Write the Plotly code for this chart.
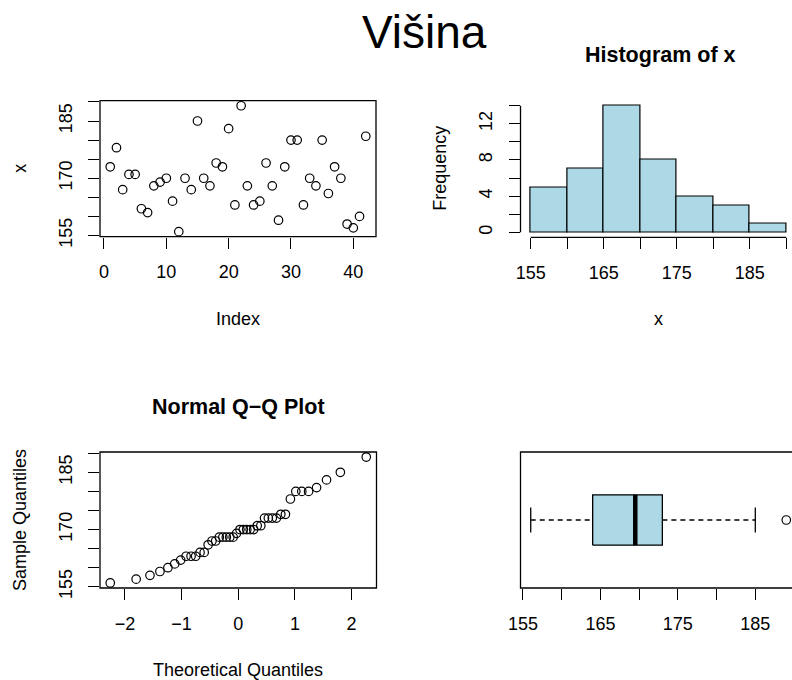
import numpy as np
import plotly.graph_objects as go
from statistics import NormalDist

# Body height measurements (cm)
heights = [173, 178, 167, 171, 171, 162, 161, 168, 169, 170, 164, 156, 170, 167,
           185, 170, 168, 174, 173, 183, 163, 189, 168, 163, 164, 174, 168, 159,
           173, 180, 180, 163, 170, 168, 180, 166, 173, 170, 158, 157, 160, 181]

hist_breaks = [155, 160, 165, 170, 175, 180, 185, 190]
height_ticks = [155, 160, 165, 170, 175, 180, 185, 190]
height_labels = ["155", "", "", "170", "", "", "185", ""]
hist_x_labels = ["155", "", "165", "", "175", "", "185", ""]
freq_ticks = [0, 2, 4, 6, 8, 10, 12, 14]
freq_labels = ["0", "", "4", "", "8", "", "12", ""]
index_ticks = [0, 10, 20, 30, 40]
qq_ticks = [-2, -1, 0, 1, 2]
qq_labels = ["\u22122", "\u22121", "0", "1", "2"]

W, H = 792, 680
FONT = "Liberation Sans, Arial, Helvetica, sans-serif"
BLUE = "#ADD8E6"
TICK_SIZE = 18

data = np.array(heights, dtype=float)
n = len(data)


def px(x):
    return x / W


def py(y):
    return 1 - y / H


def ext(lo, hi, f=0.04):
    d = (hi - lo) * f
    return [lo - d, hi + d]


# Histogram counts, right-closed bins with the lowest edge included
counts = []
for i in range(len(hist_breaks) - 1):
    lo, hi = hist_breaks[i], hist_breaks[i + 1]
    if i == 0:
        c = int(np.sum((data >= lo) & (data <= hi)))
    else:
        c = int(np.sum((data > lo) & (data <= hi)))
    counts.append(c)
mids = [(hist_breaks[i] + hist_breaks[i + 1]) / 2 for i in range(len(counts))]

# Normal Q-Q coordinates
nd = NormalDist()
probs = [(i + 0.5) / n for i in range(n)]
theo = [nd.inv_cdf(p) for p in probs]
sample = sorted(heights)

# Tukey five-number summary for the boxplot
s = np.sort(data)
n4 = np.floor((n + 3) / 2) / 2
d_idx = np.array([1, n4, (n + 1) / 2, n + 1 - n4, n]) - 1
five = 0.5 * (s[np.floor(d_idx).astype(int)] + s[np.ceil(d_idx).astype(int)])
q1, med, q3 = five[1], five[2], five[3]
iqr = q3 - q1
lo_whisk = s[s >= q1 - 1.5 * iqr].min()
hi_whisk = s[s <= q3 + 1.5 * iqr].max()
outliers = s[(s < lo_whisk) | (s > hi_whisk)]

yr = ext(min(heights), max(heights))
xr_idx = ext(1, n)
qr = ext(min(theo), max(theo))

# plot-region pixel geometry
TL = dict(x0=100, x1=376, y0=100.7, y1=236.7)
TR = dict(x0=520.5, y0=100.6, y1=237.4)
BL = dict(x0=100, x1=376.5, y0=452, y1=588)
BR = dict(x0=520.5, y0=452, y1=588)

hist_xr = ext(hist_breaks[0], hist_breaks[-1])
hist_scale = 276.0 / (hist_xr[1] - hist_xr[0])
hist_xr_vis = [hist_xr[0], hist_xr[0] + (W - TR["x0"]) / hist_scale]
hist_yr = ext(0, max(freq_ticks))

box_xr = yr
box_scale = 276.0 / (box_xr[1] - box_xr[0])
box_xr_vis = [box_xr[0], box_xr[0] + (W - BR["x0"]) / box_scale]

fig = go.Figure()

# Index plot
fig.add_trace(go.Scatter(
    x=list(range(1, n + 1)), y=heights, mode="markers",
    marker=dict(symbol="circle-open", size=8.5, color="black", line=dict(width=1.2)),
    xaxis="x", yaxis="y", hoverinfo="skip"))

# Histogram
fig.add_trace(go.Bar(
    x=mids, y=counts, width=5, marker=dict(color=BLUE, line=dict(color="black", width=1.2)),
    xaxis="x2", yaxis="y2", hoverinfo="skip"))

# Normal Q-Q plot
fig.add_trace(go.Scatter(
    x=theo, y=sample, mode="markers",
    marker=dict(symbol="circle-open", size=8.5, color="black", line=dict(width=1.2)),
    xaxis="x3", yaxis="y3", hoverinfo="skip"))

# Boxplot pieces
bw = 0.2
fig.add_trace(go.Scatter(
    x=[q1, q3, q3, q1, q1], y=[1 - bw, 1 - bw, 1 + bw, 1 + bw, 1 - bw],
    mode="lines", fill="toself", fillcolor=BLUE, line=dict(color="black", width=1.3),
    xaxis="x4", yaxis="y4", hoverinfo="skip"))
fig.add_trace(go.Scatter(
    x=[med, med], y=[1 - bw, 1 + bw], mode="lines", line=dict(color="black", width=4.5),
    xaxis="x4", yaxis="y4", hoverinfo="skip"))
for a, b in [(lo_whisk, q1), (q3, hi_whisk)]:
    fig.add_trace(go.Scatter(
        x=[a, b], y=[1, 1], mode="lines", line=dict(color="black", width=1.3, dash="5px,4px"),
        xaxis="x4", yaxis="y4", hoverinfo="skip"))
for w in [lo_whisk, hi_whisk]:
    fig.add_trace(go.Scatter(
        x=[w, w], y=[1 - bw / 2, 1 + bw / 2], mode="lines", line=dict(color="black", width=1.3),
        xaxis="x4", yaxis="y4", hoverinfo="skip"))
fig.add_trace(go.Scatter(
    x=list(outliers), y=[1] * len(outliers), mode="markers",
    marker=dict(symbol="circle-open", size=8.5, color="black", line=dict(width=1.2)),
    xaxis="x4", yaxis="y4", hoverinfo="skip"))

tickfont = dict(family=FONT, size=TICK_SIZE, color="black")
common = dict(showgrid=False, zeroline=False, showline=False, ticks="outside",
              ticklen=11, tickwidth=1.2, tickcolor="black", tickfont=tickfont,
              fixedrange=True, automargin=False)
XSO = 8   # x tick label standoff
YSO = 9   # y tick label standoff

fig.update_layout(
    width=W, height=H, margin=dict(l=0, r=0, t=0, b=0, autoexpand=False),
    paper_bgcolor="white", plot_bgcolor="white", showlegend=False,
    font=dict(family=FONT, color="black"),
    xaxis=dict(domain=[px(TL["x0"]), px(TL["x1"])], range=xr_idx, tickvals=index_ticks,
               ticklabelstandoff=XSO, anchor="y", **common),
    yaxis=dict(domain=[py(TL["y1"]), py(TL["y0"])], range=yr, tickvals=height_ticks,
               ticktext=height_labels, tickangle=-90, ticklabelstandoff=YSO, anchor="x", **common),
    xaxis2=dict(domain=[px(TR["x0"]), 1], range=hist_xr_vis, tickvals=hist_breaks,
                ticktext=hist_x_labels, ticklabelstandoff=XSO, anchor="y2", **common),
    yaxis2=dict(domain=[py(TR["y1"]), py(TR["y0"])], range=hist_yr, tickvals=freq_ticks,
                ticktext=freq_labels, tickangle=-90, ticklabelstandoff=YSO, anchor="x2", **common),
    xaxis3=dict(domain=[px(BL["x0"]), px(BL["x1"])], range=qr, tickvals=qq_ticks,
                ticktext=qq_labels, ticklabelstandoff=XSO, anchor="y3", **common),
    yaxis3=dict(domain=[py(BL["y1"]), py(BL["y0"])], range=yr, tickvals=height_ticks,
                ticktext=height_labels, tickangle=-90, ticklabelstandoff=YSO, anchor="x3", **common),
    xaxis4=dict(domain=[px(BR["x0"]), 1], range=box_xr_vis, tickvals=height_ticks,
                ticktext=hist_x_labels, ticklabelstandoff=XSO, anchor="y4", **common),
    yaxis4=dict(domain=[py(BR["y1"]), py(BR["y0"])], range=[0.46, 1.54], visible=False,
                anchor="x4", fixedrange=True),
    bargap=0,
)

LW = 1.3
shapes = []
# frames around index plot and Q-Q plot
for g in (TL, BL):
    shapes.append(dict(type="rect", xref="paper", yref="paper",
                       x0=px(g["x0"]), x1=px(g["x1"]), y0=py(g["y1"]), y1=py(g["y0"]),
                       line=dict(color="black", width=LW), fillcolor="rgba(0,0,0,0)"))
# frame around boxplot (right side runs past the page edge)
box_right = BR["x0"] + 276.5
shapes.append(dict(type="rect", xref="paper", yref="paper",
                   x0=px(BR["x0"]), x1=px(box_right), y0=py(BR["y1"]), y1=py(BR["y0"]),
                   line=dict(color="black", width=LW), fillcolor="rgba(0,0,0,0)"))
# histogram axis lines spanning the tick range only
shapes.append(dict(type="line", xref="x2 domain", yref="y2", x0=0, x1=0,
                   y0=freq_ticks[0], y1=freq_ticks[-1], line=dict(color="black", width=LW)))
shapes.append(dict(type="line", xref="x2", yref="y2 domain", x0=hist_breaks[0], x1=hist_breaks[-1],
                   y0=0, y1=0, line=dict(color="black", width=LW)))
fig.update_layout(shapes=shapes)

ann = []


def text(t, x, y, size=TICK_SIZE, bold=False, angle=0):
    ann.append(dict(text=("<b>%s</b>" % t) if bold else t, x=px(x), y=py(y),
                    xref="paper", yref="paper", showarrow=False, textangle=angle,
                    xanchor="center", yanchor="middle",
                    font=dict(family=FONT, size=size, color="black")))


text("Višina", 424.7, 32, size=46)
text("Histogram of x", 660, 55, size=21.5, bold=True)
text("Normal Q\u2212Q Plot", 238, 406.5, size=21.5, bold=True)
text("Index", 238, 319)
text("x", 658.5, 319)
text("Theoretical Quantiles", 238, 670)
text("x", 20, 168.7, angle=-90)
text("Frequency", 440, 168.7, angle=-90)
text("Sample Quantiles", 20, 520, angle=-90)
fig.update_layout(annotations=ann)

fig.write_html("out.html")
